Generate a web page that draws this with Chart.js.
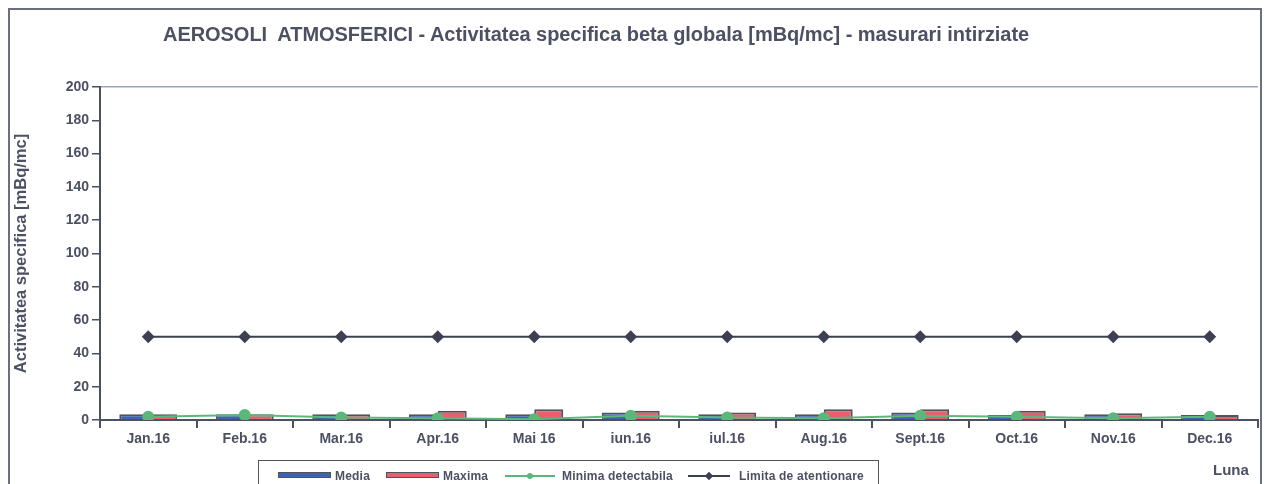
<!DOCTYPE html>
<html lang="ro">
<head>
    <meta charset="UTF-8">
    <title>Aerosoli atmosferici</title>
    <script src="https://cdn.jsdelivr.net/npm/chart.js"></script>
    <style>
        html, body { margin: 0; padding: 0; background: #fff; }
        #wrap { position: relative; width: 1265px; height: 484px; overflow: hidden;
                font-family: 'Liberation Sans', Arial, sans-serif; color: #4b5063; }
        #frame { position: absolute; left: 8px; top: 8px; width: 1254px; height: 500px;
                 border: 2px solid #6b7080; box-sizing: border-box; }
        #title { position: absolute; left: 163px; top: 23px; font-weight: bold; font-size: 20px;
                 letter-spacing: -0.05px; white-space: nowrap; }
        #luna { position: absolute; left: 1213px; top: 461px; font-weight: bold; font-size: 15px; }
        #legend { position: absolute; left: 258px; top: 460px; width: 621px; height: 40px;
                  border: 1px solid #555; box-sizing: border-box; }
        .item { position: absolute; top: 8px; font-weight: bold; font-size: 12px; letter-spacing: 0.2px; white-space: nowrap; }
        .sw { position: absolute; top: 11px; }
    </style>
</head>
<body>
<div id="wrap">
    <canvas id="chart" width="1265" height="484"></canvas>
    <div id="frame"></div>
    <div id="title">AEROSOLI&nbsp; ATMOSFERICI - Activitatea specifica beta globala [mBq/mc] - masurari intirziate</div>
    <div id="luna">Luna</div>
    <div id="legend"></div>
</div>
<script>
    // date lunare 2016
    const luni = ['Jan.16', 'Feb.16', 'Mar.16', 'Apr.16', 'Mai 16', 'iun.16', 'iul.16', 'Aug.16', 'Sept.16', 'Oct.16', 'Nov.16', 'Dec.16'];
    const media = [3.5, 3.5, 3.5, 3.5, 3.5, 4.5, 3.5, 3.5, 4.5, 3, 3.5, 3];
    const maxima = [3.5, 3.5, 3.5, 5.5, 6.5, 5.5, 4.5, 6.5, 6.5, 5.5, 4, 3];
    const minimaDetectabila = [2, 3, 1.5, 1, 0.5, 2.5, 1.5, 1, 2.5, 2, 1, 2];
    const limitaAtentionare = [50, 50, 50, 50, 50, 50, 50, 50, 50, 50, 50, 50];
    const yTicks = [0, 20, 40, 60, 80, 100, 120, 140, 160, 180, 200];

    const dark = '#4b5063';

    const ctx = document.getElementById('chart').getContext('2d');
    const chart = new Chart(ctx, {
        type: 'bar',
        data: {
            labels: luni,
            datasets: [
                {
                    label: 'Media',
                    data: media,
                    backgroundColor: '#3d63b5',
                    borderColor: '#50535e',
                    borderWidth: 2,
                    order: 2
                },
                {
                    label: 'Maxima',
                    data: maxima,
                    backgroundColor: '#e8606e',
                    borderColor: '#50535e',
                    borderWidth: 2,
                    order: 2
                },
                {
                    type: 'line',
                    label: 'Minima detectabila',
                    data: minimaDetectabila,
                    borderColor: '#5cb87a',
                    backgroundColor: '#5cb87a',
                    borderWidth: 2,
                    pointRadius: 5,
                    pointStyle: 'circle',
                    order: 1
                },
                {
                    type: 'line',
                    label: 'Limita de atentionare',
                    data: limitaAtentionare,
                    borderColor: '#3c4052',
                    backgroundColor: '#3c4052',
                    borderWidth: 2,
                    pointRadius: 5,
                    pointStyle: 'rectRot',
                    order: 0
                }
            ]
        },
        options: {
            responsive: false,
            animation: false,
            layout: { padding: { left: 10, right: 3, top: 87, bottom: 0 } },
            plugins: {
                legend: { display: false },
                tooltip: { enabled: false }
            },
            datasets: {
                bar: { barPercentage: 1.0, categoryPercentage: 0.6 }
            },
            scales: {
                x: {
                    grid: { display: true, drawOnChartArea: false, offset: true, tickLength: 8, color: dark, lineWidth: 2 },
                    border: { color: dark, width: 2 },
                    ticks: { color: dark, font: { family: 'Liberation Sans', size: 14, weight: 'bold' }, padding: 3, maxRotation: 0 },
                    afterFit: s => { s.height = 64; }
                },
                y: {
                    min: 0,
                    max: 200,
                    afterBuildTicks: s => { s.ticks = yTicks.map(v => ({ value: v })); },
                    grid: {
                        drawOnChartArea: true,
                        tickLength: 8,
                        color: c => (c.tick && c.tick.value === 200) ? '#9aa3c0' : 'rgba(0,0,0,0)',
                        tickColor: dark,
                        lineWidth: 1.5
                    },
                    border: { color: dark, width: 2 },
                    ticks: { color: dark, font: { family: 'Liberation Sans', size: 14, weight: 'bold' }, padding: 3 },
                    title: {
                        display: true,
                        text: 'Activitatea specifica [mBq/mc]',
                        color: dark,
                        font: { family: 'Liberation Sans', size: 16.5, weight: 'bold' },
                        padding: { top: 2, bottom: 0 }
                    },
                    afterFit: s => { s.width = 90; }
                }
            }
        }
    });

    // legenda construita din seturile de date
    const legendPos = [
        { sw: 19, txt: 76, w: 51 },
        { sw: 127, txt: 184, w: 51 },
        { sw: 246, txt: 303, w: 50 },
        { sw: 429, txt: 480, w: 42 }
    ];
    const legend = document.getElementById('legend');
    chart.data.datasets.forEach((ds, i) => {
        const p = legendPos[i];
        const sw = document.createElement('div');
        sw.className = 'sw';
        sw.style.left = p.sw + 'px';
        sw.style.width = p.w + 'px';
        if (ds.type === 'line') {
            sw.style.height = '2px';
            sw.style.top = '14px';
            sw.style.background = ds.borderColor;
            const dot = document.createElement('div');
            dot.style.cssText = 'position:absolute;left:' + (p.w / 2 - 3) + 'px;top:-2px;width:6px;height:6px;background:' + ds.borderColor + ';'
                + (ds.pointStyle === 'circle' ? 'border-radius:50%;' : 'transform:rotate(45deg);');
            sw.appendChild(dot);
        } else {
            sw.style.height = '4px';
            sw.style.background = ds.backgroundColor;
            sw.style.border = '1px solid #50535e';
        }
        legend.appendChild(sw);
        const t = document.createElement('div');
        t.className = 'item';
        t.style.left = p.txt + 'px';
        t.textContent = ds.label;
        legend.appendChild(t);
    });
</script>
</body>
</html>
